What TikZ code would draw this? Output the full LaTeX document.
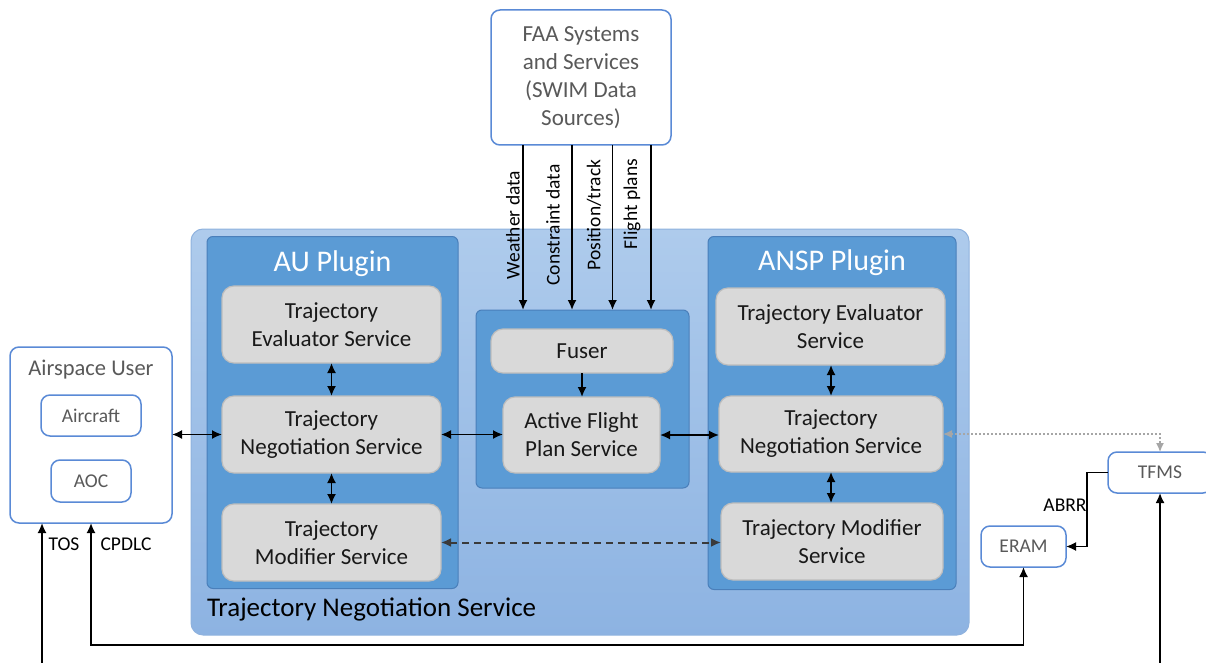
\documentclass[tikz,border=0pt]{standalone}
\usepackage{fontspec}
\setmainfont{Carlito}
\usetikzlibrary{arrows.meta,calc}

\definecolor{edgeblue}{HTML}{5A8AD6}
\definecolor{softtext}{HTML}{595959}
\definecolor{plugfill}{HTML}{5B9BD5}
\definecolor{plugedge}{HTML}{4A7FBA}
\definecolor{outertop}{HTML}{AECBEC}
\definecolor{outerbot}{HTML}{8DB3E2}
\definecolor{outeredge}{HTML}{8FB2DE}
\definecolor{cardfill}{HTML}{D9D9D9}
\definecolor{cardedge}{HTML}{BDBDBD}
\definecolor{dashgray}{HTML}{3A3A3A}
\definecolor{dotgray}{HTML}{A6A6A6}

\begin{document}
\begin{tikzpicture}[x=1pt,y=-1pt,
  every node/.style={inner sep=0pt,outer sep=0pt,align=center},
  card/.style={draw=cardedge,fill=cardfill,line width=1.2pt,rounded corners=12pt,
    font=\fontsize{23}{28}\selectfont,text=black!90},
  plug/.style={draw=plugedge,fill=plugfill,line width=1pt,rounded corners=6pt},
  wbox/.style={draw=edgeblue,fill=white,line width=1.5pt,rounded corners=9pt,text=softtext},
  lbl/.style={font=\fontsize{19.5}{22}\selectfont,text=black},
  arr/.style={line width=1.7pt,-{Latex[length=10pt,width=9pt]}},
  biarr/.style={line width=1.7pt,{Latex[length=10pt,width=9pt]}-{Latex[length=10pt,width=9pt]}},
]
\useasboundingbox (0,0) rectangle (1206,663);

% service container
\node[draw=outeredge,line width=1pt,rounded corners=12pt,top color=outertop,bottom color=outerbot,
  minimum width=778pt,minimum height=406pt] (tns) at (580,432) {};
\node[font=\fontsize{27}{32}\selectfont,anchor=west] (tnsTitle) at (207,609) {Trajectory Negotiation Service};

% plugins and the central flight-plan block
\node[plug,minimum width=251pt,minimum height=352pt] (auPlug) at (332.5,412.5) {};
\node[plug,minimum width=248pt,minimum height=353pt] (anPlug) at (832,413) {};
\node[plug,minimum width=213pt,minimum height=178pt] (ctr) at (582.5,399) {};
\node[font=\fontsize{30}{34}\selectfont,text=white] (auTitle) at (332.5,264) {AU Plugin};
\node[font=\fontsize{30}{34}\selectfont,text=white] (anTitle) at (832,263) {ANSP Plugin};

% service cards
\node[card,minimum width=219pt,minimum height=77pt] (auEval) at (331.5,324.5) {Trajectory\\Evaluator Service};
\node[card,minimum width=219pt,minimum height=77pt] (auNeg) at (331.5,434.5) {Trajectory\\Negotiation Service};
\node[card,minimum width=219pt,minimum height=77pt] (auMod) at (331.5,542.5) {Trajectory\\Modifier Service};
\node[card,minimum width=182pt,minimum height=44pt] (fuser) at (582,351) {Fuser};
\node[card,minimum width=157pt,minimum height=76pt] (afp) at (581.5,435) {Active Flight\\Plan Service};
\node[card,minimum width=229pt,minimum height=77pt] (anEval) at (830.5,326.5) {Trajectory Evaluator\\Service};
\node[card,minimum width=224pt,minimum height=76pt] (anNeg) at (831,434) {Trajectory\\Negotiation Service};
\node[card,minimum width=222pt,minimum height=77pt] (anMod) at (832,541.5) {Trajectory Modifier\\Service};

% external systems
\node[wbox,minimum width=180pt,minimum height=135pt,font=\fontsize{23}{28}\selectfont] (faa) at (581,77.5)
  {FAA Systems\\and Services\\(SWIM Data\\Sources)};
\node[wbox,minimum width=162pt,minimum height=176pt] (au) at (91,435) {};
\node[text=softtext,font=\fontsize{22.5}{26}\selectfont] (auName) at (91,370) {Airspace User};
\node[wbox,minimum width=100pt,minimum height=41pt,font=\fontsize{19.5}{22}\selectfont] (aircraft) at (91,415.5) {Aircraft};
\node[wbox,minimum width=80pt,minimum height=42pt,font=\fontsize{19.5}{22}\selectfont] (aoc) at (91,481) {AOC};
\node[wbox,minimum width=104pt,minimum height=41pt,font=\fontsize{19.5}{22}\selectfont] (tfms) at (1160,472.5) {TFMS};
\node[wbox,minimum width=85pt,minimum height=41pt,font=\fontsize{19.5}{22}\selectfont] (eram) at (1023.5,546.5) {ERAM};

% SWIM feeds into the fuser block
\coordinate (fx1) at (523,0);
\coordinate (fx2) at (572,0);
\coordinate (fx3) at (612.5,0);
\coordinate (fx4) at (651,0);
\draw[arr] (faa.south -| fx1) -- (ctr.north -| fx1);
\draw[arr] (faa.south -| fx2) -- (ctr.north -| fx2);
\draw[arr] (faa.south -| fx3) -- (ctr.north -| fx3);
\draw[arr] (faa.south -| fx4) -- (ctr.north -| fx4);
\node[lbl,rotate=90] (lWx) at (513,225) {Weather data};
\node[lbl,rotate=90] (lCon) at (553,225) {Constraint data};
\node[lbl,rotate=90] (lPos) at (594,215) {Position/track};
\node[lbl,rotate=90] (lFp) at (632,204) {Flight plans};

% links inside the plugins
\draw[biarr] (auEval.south) -- (auNeg.north);
\draw[biarr] (auNeg.south) -- (auMod.north);
\draw[biarr] (anEval.south -| anNeg.north) -- (anNeg.north);
\draw[biarr] (anNeg.south) -- (anNeg.south |- anMod.north);
\draw[arr] (fuser.south) -- (fuser.south |- afp.north);

% horizontal exchanges
\draw[biarr] (auNeg.west -| au.east) -- (auNeg.west);
\draw[biarr] (auNeg.east) -- (auNeg.east -| afp.west);
\draw[biarr] (afp.east) -- (afp.east -| anNeg.west);
\draw[line width=2pt,dashgray,dash pattern=on 7pt off 5pt,
  {Latex[length=10pt,width=9pt]}-{Latex[length=10pt,width=9pt]}] (auMod.east) -- (auMod.east -| anMod.west);
\draw[line width=1.3pt,dotgray,dash pattern=on 2pt off 2pt,
  {Latex[length=9pt,width=8pt]}-{Latex[length=9pt,width=8pt]}] (anNeg.east) -- (anNeg.east -| tfms.north) -- (tfms.north);

% TFMS to ERAM
\draw[arr] (tfms.west) -- ++(-21,0) |- (eram.east);
\node[lbl] (lAbrr) at (1065,505) {ABRR};

% ground links along the bottom
\coordinate (tosEnd) at (42,670);
\coordinate (tfmsEnd) at (1160,670);
\draw[arr] (tosEnd) -- (tosEnd |- au.south);
\node[lbl] (lTos) at (64,544) {TOS};
\draw[biarr] (au.south) -- ++(0,122) -| (eram.south);
\node[lbl] (lCpdlc) at (126,544) {CPDLC};
\draw[arr] (tfmsEnd) -- (tfms.south);
\end{tikzpicture}
\end{document}
